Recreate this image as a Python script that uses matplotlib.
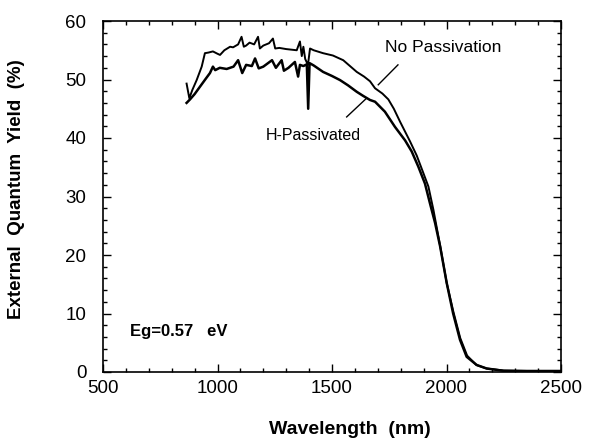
import numpy as np
import matplotlib
matplotlib.use("Agg")
import matplotlib.pyplot as plt
from matplotlib.ticker import MultipleLocator

plt.rcParams['font.family'] = ['Liberation Sans', 'DejaVu Sans']

# No Passivation (upper curve)
wl_nopass = [865, 877, 890, 909, 931, 945, 960, 980, 1000, 1011, 1030, 1055, 1068, 1090, 1105,
             1115, 1125, 1140, 1160, 1177, 1185, 1200, 1225, 1242, 1252, 1270, 1300, 1346,
             1360, 1368, 1375, 1383, 1395, 1404, 1420, 1461, 1504, 1549, 1608, 1640,
             1666, 1688, 1720, 1746, 1770, 1797, 1841, 1870, 1899, 1921, 1943, 1975, 2001,
             2030, 2060, 2090, 2130, 2175, 2250, 2350, 2500]
eqy_nopass = [49.3, 46.8, 48.2, 49.9, 52.2, 54.5, 54.6, 54.8, 54.4, 54.2, 55.0, 55.6, 55.5, 56.0, 57.3,
              55.6, 55.8, 56.3, 56.0, 57.3, 55.3, 55.8, 56.2, 57.0, 55.3, 55.4, 55.2, 55.0,
              56.5, 54.0, 55.6, 53.5, 52.5, 55.3, 55.0, 54.5, 54.1, 53.3, 51.3, 50.5,
              49.7, 48.5, 47.6, 46.6, 45.0, 42.8, 39.4, 37.0, 34.0, 31.7, 27.7, 21.0, 15.2,
              10.3, 5.8, 2.8, 1.2, 0.6, 0.25, 0.2, 0.2]

# H-Passivated (lower curve)
wl_hpass = [865, 880, 900, 924, 950, 967, 980, 990, 1010, 1040, 1070, 1090, 1108, 1125, 1150, 1164,
            1180, 1200, 1238, 1255, 1280, 1290, 1310, 1338, 1352, 1360, 1375, 1390, 1396,
            1402, 1420, 1461, 1500, 1535, 1570, 1608, 1636, 1666, 1688, 1731, 1775, 1819, 1848,
            1877, 1906, 1928, 1950, 1972, 2001, 2029, 2059, 2088, 2132, 2175, 2250, 2350, 2500]
eqy_hpass = [46.0, 46.6, 47.5, 48.8, 50.2, 51.1, 52.2, 51.6, 52.0, 51.8, 52.2, 53.3, 51.1, 52.5, 52.3, 53.6,
             51.9, 52.2, 53.3, 52.0, 53.3, 51.5, 52.0, 53.0, 50.5, 52.5, 52.3, 52.6, 45.0,
             52.8, 52.4, 51.3, 50.6, 49.9, 49.0, 47.9, 47.2, 46.5, 46.2, 44.5, 41.9, 39.6, 37.7,
             35.1, 32.2, 28.8, 25.5, 21.5, 15.2, 10.0, 5.5, 2.6, 1.2, 0.6, 0.2, 0.15, 0.15]

fig = plt.figure(figsize=(5.89, 4.45), dpi=100)
ax = fig.add_axes([103/589, 1 - 372/445, 458/589, 351/445])

ax.plot(wl_nopass, eqy_nopass, color='black', lw=1.4)
ax.plot(wl_hpass, eqy_hpass, color='black', lw=1.8)

ax.set_xlim(500, 2500)
ax.set_ylim(0, 60)
ax.xaxis.set_major_locator(MultipleLocator(500))
ax.xaxis.set_minor_locator(MultipleLocator(100))
ax.yaxis.set_major_locator(MultipleLocator(10))
ax.yaxis.set_minor_locator(MultipleLocator(2))
ax.tick_params(which='both', direction='in', top=True, right=True, labelsize=13.5, width=1)
ax.tick_params(which='major', length=6)
ax.tick_params(which='minor', length=3)
ax.tick_params(axis='x', which='major', pad=6)
ax.tick_params(axis='y', which='major', pad=12)
for s in ax.spines.values():
    s.set_linewidth(1.2)

ax.set_xlabel('Wavelength  (nm)', fontsize=14, fontweight='bold')
ax.set_ylabel('External  Quantum  Yield  (%)', fontsize=13.5, fontweight='bold')
ax.xaxis.set_label_coords(0.54, -0.14)
ax.yaxis.set_label_coords(-0.17, 0.52)

ax.text(1985, 55.4, 'No Passivation', fontsize=12.5, ha='center', va='center')
ax.plot([1788, 1702], [52.5, 49.1], color='black', lw=1)
ax.text(1417, 40.5, 'H-Passivated', fontsize=11.5, ha='center', va='center')
ax.plot([1564, 1651], [43.6, 46.8], color='black', lw=1)
ax.text(618, 6.9, 'Eg=0.57   eV', fontsize=12, fontweight='bold', ha='left', va='center')

fig.savefig('out.png', dpi=100)
